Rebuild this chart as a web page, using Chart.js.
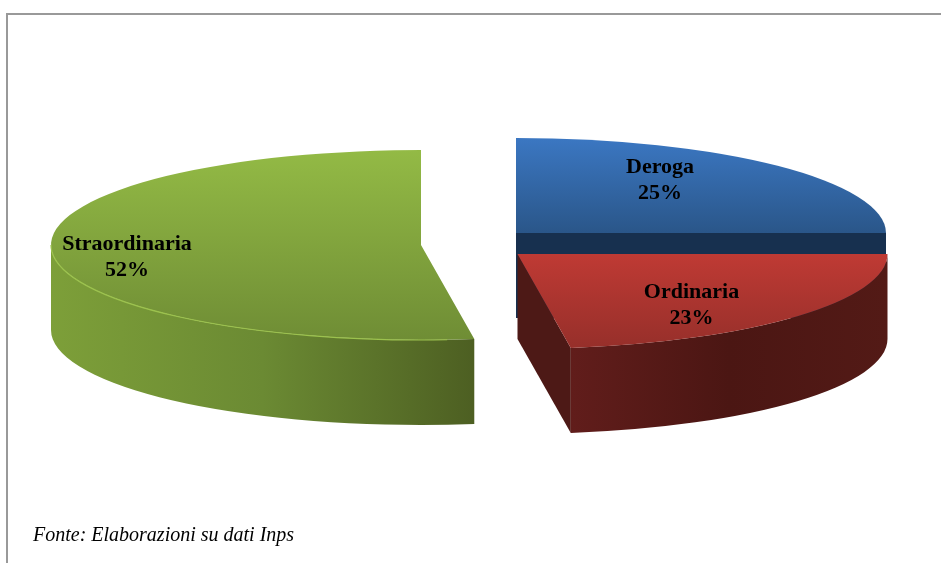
<!DOCTYPE html>
<html>
<head>
<meta charset="utf-8">
<title>Fonte: Elaborazioni su dati Inps</title>
<script src="https://cdn.jsdelivr.net/npm/chart.js@4"></script>
<style>
    html, body { margin: 0; background: #fff; overflow: hidden; }
    #wrap { position: relative; width: 941px; height: 563px; }
    #frame { position: absolute; left: 6px; top: 13px; right: 0; bottom: 0; border-top: 2px solid #999; border-left: 2px solid #999; }
    #note { position: absolute; left: 33px; top: 523px; font: italic 20px "Liberation Serif", serif; color: #000; }
    canvas { position: absolute; left: 0; top: 0; }
</style>
</head>
<body>
<div id="wrap">
    <canvas id="pieChart" width="941" height="563"></canvas>
    <div id="frame"></div>
    <div id="note">Fonte: Elaborazioni su dati Inps</div>
</div>
<script>
const categories = ['Deroga', 'Ordinaria', 'Straordinaria'];
const shares = [25, 22.7, 52.3];

// look of the fake 3d
const squash = 95 / 370;
const radiusX = 370;
const depth = 85;
const shift = [[45.5, -12], [47, 9], [-49.5, 0]];
const labelShift = [[144, -60], [174, 44], [-294, 5]];
const topColors = [['#3b77c2', '#2a5689'], ['#bf3a34', '#962f2a'], ['#93ba45', '#6f8d35']];
const wallColors = [['#17304f', '#17304f'], ['#611d1b', '#4b1613', '#531a16'], ['#7d9f39', '#6b8a33', '#4d5f22']];
const cutColor = ['#17304f', '#4d1916', '#4d5f22'];

function hGradient(ctx, x0, x1, colors) {
    const g = ctx.createLinearGradient(x0, 0, x1, 0);
    colors.forEach((c, i) => g.addColorStop(i / (colors.length - 1), c));
    return g;
}

const pie3d = {
    id: 'pie3d',
    beforeDatasetsDraw(chart) {
        const ctx = chart.ctx;
        const arcs = chart.getDatasetMeta(0).data;

        arcs.forEach((arc, i) => {
            const cx = arc.x + shift[i][0];
            const cy = arc.y + shift[i][1];
            const ry = radiusX * squash;
            const a0 = arc.startAngle;
            const a1 = arc.endAngle;

            // radial wall at the clockwise end of the slice
            if (Math.sin(a1) > -1e-9) {
                const ex = cx + radiusX * Math.cos(a1);
                const ey = cy + ry * Math.sin(a1);
                ctx.fillStyle = cutColor[i];
                ctx.beginPath();
                ctx.moveTo(cx, cy);
                ctx.lineTo(ex, ey);
                ctx.lineTo(ex, ey + depth);
                ctx.lineTo(cx, cy + depth);
                ctx.closePath();
                ctx.fill();
            }

            // outer wall, only the front half shows
            const from = Math.max(a0, 0);
            const to = Math.min(a1, Math.PI);
            if (to > from) {
                const xa = cx + radiusX * Math.cos(to);
                const xb = cx + radiusX * Math.cos(from);
                ctx.fillStyle = hGradient(ctx, xa, xb, wallColors[i]);
                ctx.beginPath();
                ctx.ellipse(cx, cy, radiusX, ry, 0, from, to);
                ctx.ellipse(cx, cy + depth, radiusX, ry, 0, to, from, true);
                ctx.closePath();
                ctx.fill();
            }

            // top face is the chart's own arc, squashed
            ctx.save();
            ctx.translate(cx, cy);
            ctx.scale(radiusX / arc.outerRadius, ry / arc.outerRadius);
            ctx.translate(-arc.x, -arc.y);
            const g = ctx.createLinearGradient(0, arc.y - arc.outerRadius, 0, arc.y + arc.outerRadius);
            if (i === 1) {
                g.addColorStop(0.5, topColors[i][0]);
                g.addColorStop(1, topColors[i][1]);
            } else if (i === 0) {
                g.addColorStop(0, topColors[i][0]);
                g.addColorStop(0.5, topColors[i][1]);
            } else {
                g.addColorStop(0, topColors[i][0]);
                g.addColorStop(1, topColors[i][1]);
            }
            const opts = arc.options;
            arc.options = Object.create(opts, { backgroundColor: { value: g } });
            arc.draw(ctx);
            arc.options = opts;
            ctx.restore();

            // light rim on the green front edge
            if (i === 2) {
                ctx.strokeStyle = '#9cc24e';
                ctx.lineWidth = 1.2;
                ctx.beginPath();
                ctx.ellipse(cx, cy, radiusX, ry, 0, 1.5, Math.PI);
                ctx.stroke();
            }
        });

        ctx.fillStyle = '#000';
        ctx.font = 'bold 22px "Liberation Serif", serif';
        ctx.textAlign = 'center';
        ctx.textBaseline = 'alphabetic';
        arcs.forEach((arc, i) => {
            const x = arc.x + shift[i][0] + labelShift[i][0];
            const y = arc.y + shift[i][1] + labelShift[i][1];
            ctx.fillText(categories[i], x, y);
            ctx.fillText(Math.round(shares[i]) + '%', x, y + 26);
        });
        return false;
    }
};

document.addEventListener('DOMContentLoaded', () => {
    new Chart(document.getElementById('pieChart').getContext('2d'), {
        type: 'pie',
        data: {
            labels: categories,
            datasets: [{
                data: shares,
                backgroundColor: ['#3b77c2', '#bf3a34', '#93ba45'],
                borderWidth: 0,
                hoverOffset: 0
            }]
        },
        options: {
            responsive: false,
            animation: false,
            layout: { padding: { bottom: 73 } },
            plugins: { legend: { display: false }, tooltip: { enabled: false } }
        },
        plugins: [pie3d]
    });
});
</script>
</body>
</html>
